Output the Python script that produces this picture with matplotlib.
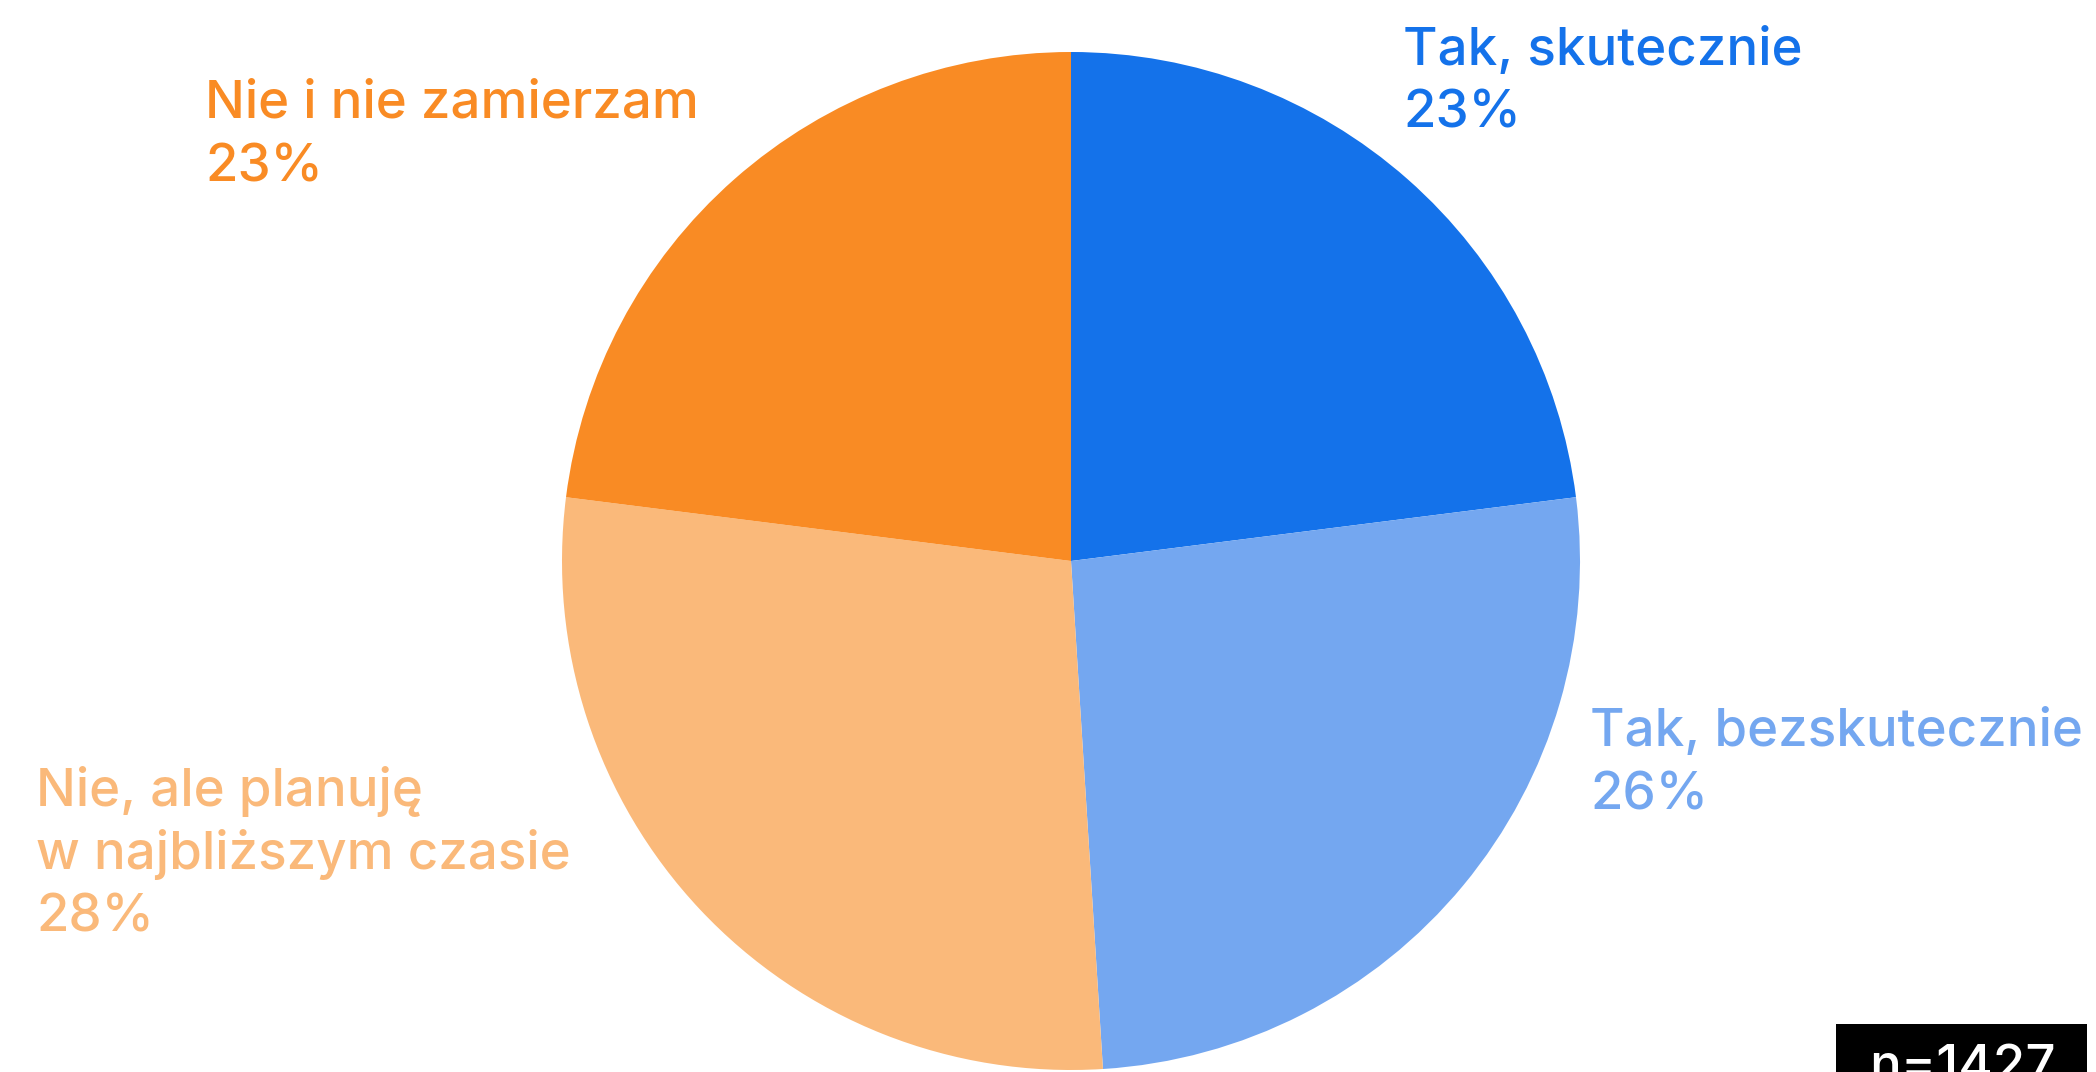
import matplotlib.pyplot as plt
from matplotlib.patches import Rectangle

labels = ["Tak, skutecznie", "Tak, bezskutecznie", "Nie, ale planuję\nw najbliższym czasie", "Nie i nie zamierzam"]
values = [23, 26, 28, 23]
colors = ["#1472EA", "#74A7F0", "#FAB97A", "#F98B24"]
n_total = 1427

W, H = 2096, 1072
plt.rcParams['font.family'] = ['Inter', 'DejaVu Sans']

fig = plt.figure(figsize=(W / 100, H / 100), dpi=100)
ax = fig.add_axes([0, 0, 1, 1])

# pie (pixel coords, y up)
ax.pie(values, colors=colors, startangle=90, counterclock=False,
       center=(1071, H - 561), radius=509,
       wedgeprops=dict(linewidth=0, antialiased=True), frame=True)
ax.set_xlim(0, W)
ax.set_ylim(0, H)
ax.set_aspect('equal')
ax.axis('off')

# label anchors: x, baseline of first line (from top)
anchors = [(1403, 65), (1590, 746), (36, 806), (205, 118)]
line_gap = 63
for lab, v, c, (x, y0) in zip(labels, values, colors, anchors):
    lines = lab.split("\n") + [f"{v}%"]
    for i, ln in enumerate(lines):
        ax.text(x, H - (y0 + i * line_gap), ln, color=c, fontsize=38,
                fontweight='medium', ha='left', va='baseline')

# sample size box, cut off at the bottom edge
ax.add_patch(Rectangle((1836, H - 1080), 2087 - 1836, 1080 - 1024,
                       facecolor='black', edgecolor='none', clip_on=False))
ax.text(1962, H - 1082, f"n={n_total}", color='white', fontsize=38,
        fontweight='medium', ha='center', va='baseline')

fig.savefig("out.png", dpi=100, facecolor='white')
